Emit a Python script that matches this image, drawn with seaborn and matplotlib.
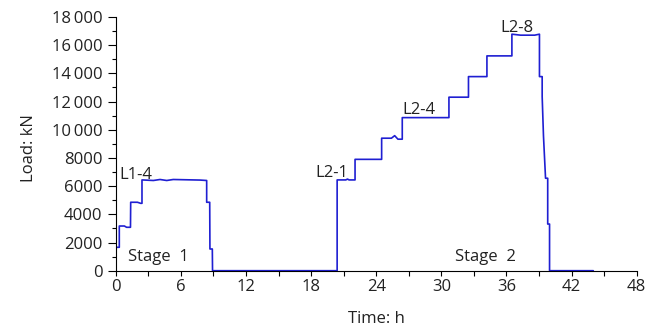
import matplotlib
matplotlib.use("Agg")
import matplotlib.pyplot as plt
from matplotlib.ticker import MultipleLocator, FixedLocator
import seaborn as sns
import pandas as pd

# Recorded load history (time in hours, load in kN)
time_h = [
    0.0, 0.0, 0.33, 0.33, 0.8, 1.0, 1.36, 1.38, 2.0, 2.3, 2.42, 2.42,
    3.47, 4.08, 4.7, 5.3, 6.54, 7.77, 8.38, 8.38, 8.66, 8.68, 8.9, 8.92,
    20.4, 20.4, 21.2, 21.35, 21.5, 22.05, 22.05, 24.5, 24.5, 25.4, 25.7, 26.0,
    26.4, 26.4, 30.7, 30.7, 32.5, 32.5, 34.2, 34.2, 36.5, 36.5, 37.3, 38.6,
    39.04, 39.04, 39.29, 39.29, 39.41, 39.6, 39.8, 39.8, 39.97, 39.97, 44.0,
]
load_kn = [
    0, 1660, 1660, 3170, 3170, 3080, 3080, 4855, 4855, 4780, 4780, 6440,
    6400, 6470, 6400, 6470, 6450, 6430, 6400, 4855, 4855, 1540, 1540, 0,
    0, 6440, 6440, 6500, 6440, 6440, 7900, 7900, 9400, 9400, 9580, 9330,
    9330, 10860, 10860, 12310, 12310, 13770, 13770, 15240, 15240, 16780, 16710, 16710,
    16780, 13770, 13770, 12350, 9560, 6560, 6560, 3310, 3310, 0, 0,
]

# Axis ticks
x_major = [0, 6, 12, 18, 24, 30, 36, 42, 48]
y_major = [0, 2000, 4000, 6000, 8000, 10000, 12000, 14000, 16000, 18000]
y_labels = ["0", "2000", "4000", "6000", "8000",
            "10\u2009000", "12\u2009000", "14\u2009000", "16\u2009000", "18\u2009000"]

# Load-step annotations: (text, time, load)
step_labels = ["L1-4", "L2-1", "L2-4", "L2-8"]
step_label_t = [0.30, 18.35, 26.45, 35.4]
step_label_y = [6500, 6620, 11150, 16960]

stage_labels = ["Stage  1", "Stage  2"]
stage_label_t = [1.13, 31.3]
stage_label_y = [710, 710]

sns.set_style("ticks")
fonts = ["Open Sans", "DejaVu Sans"]
plt.rcParams["font.family"] = fonts
plt.rcParams["font.size"] = 12
text_color = "#222222"

fig = plt.figure(figsize=(6.62, 3.33), dpi=100)
ax = fig.add_axes([0.1748, 0.1871, 0.787, 0.7619])

df = pd.DataFrame({"Time": time_h, "Load": load_kn})
sns.lineplot(data=df, x="Time", y="Load", sort=False, estimator=None,
             color="#1f1fd2", linewidth=1.2, ax=ax)

ax.set_xlim(0, 48)
ax.set_ylim(0, 18000)
ax.xaxis.set_major_locator(FixedLocator(x_major))
ax.xaxis.set_minor_locator(MultipleLocator(3))
ax.yaxis.set_major_locator(FixedLocator(y_major))
ax.yaxis.set_minor_locator(MultipleLocator(1000))
ax.set_xticklabels([str(v) for v in x_major])
ax.set_yticklabels(y_labels)

for side in ("top", "right"):
    ax.spines[side].set_visible(False)
for side in ("left", "bottom"):
    ax.spines[side].set_color("black")
    ax.spines[side].set_linewidth(0.8)

ax.tick_params(axis="x", which="both", direction="out", length=3.6, width=0.8,
               pad=2.5, labelsize=12, labelcolor=text_color, color="black")
ax.tick_params(axis="y", which="major", direction="out", length=5.5, width=0.8,
               pad=4, labelsize=12, labelcolor=text_color, color="black")
ax.tick_params(axis="y", which="minor", direction="out", length=2.8, width=0.8,
               color="black")

ax.set_xlabel("Time: h", fontsize=12, color=text_color)
ax.set_ylabel("Load: kN", fontsize=12, color=text_color)
ax.xaxis.set_label_coords(0.5, -0.16)
ax.yaxis.set_label_coords(-0.152, 0.4825)

for txt, t, y in zip(step_labels, step_label_t, step_label_y):
    ax.text(t, y, txt, ha="left", va="baseline", fontsize=12, color=text_color)
for txt, t, y in zip(stage_labels, stage_label_t, stage_label_y):
    ax.text(t, y, txt, ha="left", va="baseline", fontsize=12, color=text_color)

fig.savefig("out.png", dpi=100)
